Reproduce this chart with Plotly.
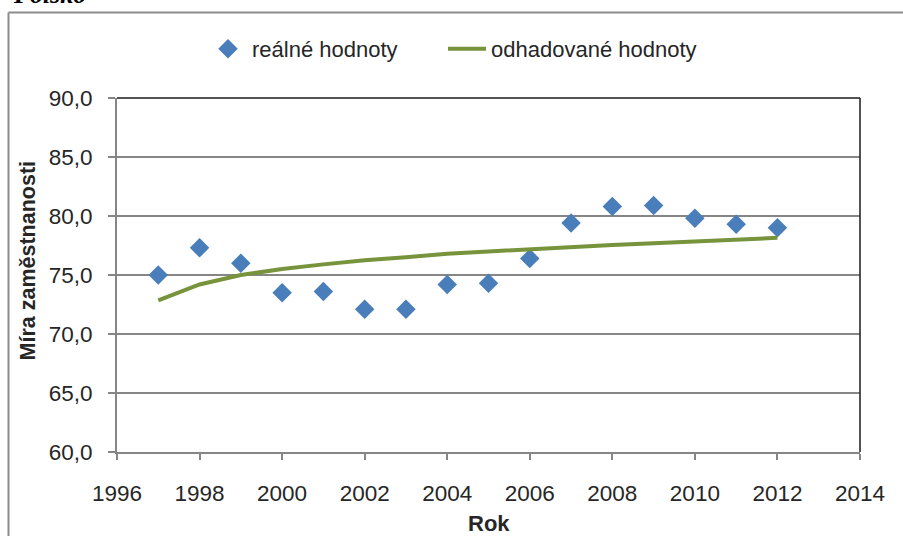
import plotly.graph_objects as go

years = [1997, 1998, 1999, 2000, 2001, 2002, 2003, 2004, 2005, 2006, 2007, 2008, 2009, 2010, 2011, 2012]
real_values = [75.0, 77.3, 76.0, 73.5, 73.6, 72.1, 72.1, 74.2, 74.3, 76.4, 79.4, 80.8, 80.9, 79.8, 79.3, 79.0]
est_values = [72.85, 74.2, 75.0, 75.5, 75.9, 76.25, 76.5, 76.8, 77.0, 77.2, 77.4, 77.55, 77.7, 77.85, 78.0, 78.15]
x_ticks = [1996, 1998, 2000, 2002, 2004, 2006, 2008, 2010, 2012, 2014]
y_ticks = [60, 65, 70, 75, 80, 85, 90]
y_tick_labels = ["60,0", "65,0", "70,0", "75,0", "80,0", "85,0", "90,0"]

W, H = 903, 536
L, R, T, B = 117, 43, 98, 84
PW, PH = W - L - R, H - T - B

def px(X):
    return (X - L) / PW

def py(Y):
    return (H - B - Y) / PH

FONT = "Liberation Sans, Arial, sans-serif"
GRAY = "#868686"
TXT = "#262626"

fig = go.Figure()
fig.add_trace(go.Scatter(
    x=years, y=real_values, mode="markers", name="reálné hodnoty", legend="legend",
    marker=dict(symbol="diamond", size=15, color="#4a7ebb", line=dict(width=0)),
))
fig.add_trace(go.Scatter(
    x=years, y=est_values, mode="lines", name="odhadované hodnoty", legend="legend2",
    line=dict(color="#77933c", width=4),
))

leg_common = dict(orientation="h", xanchor="left", yanchor="middle", y=py(49),
                  font=dict(size=22, color=TXT), bgcolor="rgba(0,0,0,0)", itemwidth=38)

fig.update_layout(
    width=W, height=H,
    margin=dict(l=L, r=R, t=T, b=B, pad=0, autoexpand=False),
    paper_bgcolor="white", plot_bgcolor="white",
    font=dict(family=FONT, size=22, color=TXT),
    showlegend=True,
    legend=dict(x=px(204), **leg_common),
    legend2=dict(x=px(443), **leg_common),
    xaxis=dict(range=[1996, 2014], tickvals=x_ticks, ticktext=[str(v) for v in x_ticks],
               showgrid=False, zeroline=False, showline=True, linecolor=GRAY, linewidth=2,
               ticks="outside", ticklen=6, tickwidth=1.5, tickcolor=GRAY, automargin=False,
               tickfont=dict(size=22.5, color=TXT), ticklabelstandoff=14),
    yaxis=dict(range=[60, 90], tickvals=y_ticks, ticktext=y_tick_labels,
               showgrid=True, gridcolor=GRAY, gridwidth=1.5, zeroline=False,
               showline=True, linecolor=GRAY, linewidth=2, automargin=False,
               ticks="outside", ticklen=7, tickwidth=1.5, tickcolor=GRAY,
               tickfont=dict(size=22.5, color=TXT), ticklabelstandoff=11),
    shapes=[
        dict(type="line", xref="paper", yref="paper", x0=0, x1=1, y0=1, y1=1,
             line=dict(color="#1a1a1a", width=1.5)),
        dict(type="line", xref="paper", yref="paper", x0=1, x1=1, y0=0, y1=1,
             line=dict(color="#1a1a1a", width=1.5)),
        dict(type="line", xref="paper", yref="paper", x0=px(8.5), x1=px(903), y0=py(12.5), y1=py(12.5),
             line=dict(color="#8c8c8c", width=2)),
        dict(type="line", xref="paper", yref="paper", x0=px(8.5), x1=px(8.5), y0=py(12.5), y1=py(540),
             line=dict(color="#8c8c8c", width=2)),
    ],
    annotations=[
        dict(text="<b><i>Polsko</i></b>", xref="paper", yref="paper", x=px(11), y=py(11),
             xanchor="left", yanchor="bottom", showarrow=False,
             font=dict(family="Liberation Serif, Times New Roman, serif", size=26, color="#000000")),
        dict(text="<b>Míra zaměstnanosti</b>", xref="paper", yref="paper", x=px(27.5), y=py(261),
             xanchor="center", yanchor="middle", textangle=-90, showarrow=False,
             font=dict(size=21.5, color=TXT)),
        dict(text="<b>Rok</b>", xref="paper", yref="paper", x=px(488.5), y=py(523),
             xanchor="center", yanchor="middle", showarrow=False,
             font=dict(size=22, color=TXT)),
    ],
)

fig.write_html("out.html", config={"displayModeBar": False},
               post_script="document.body.style.margin='0px';")
